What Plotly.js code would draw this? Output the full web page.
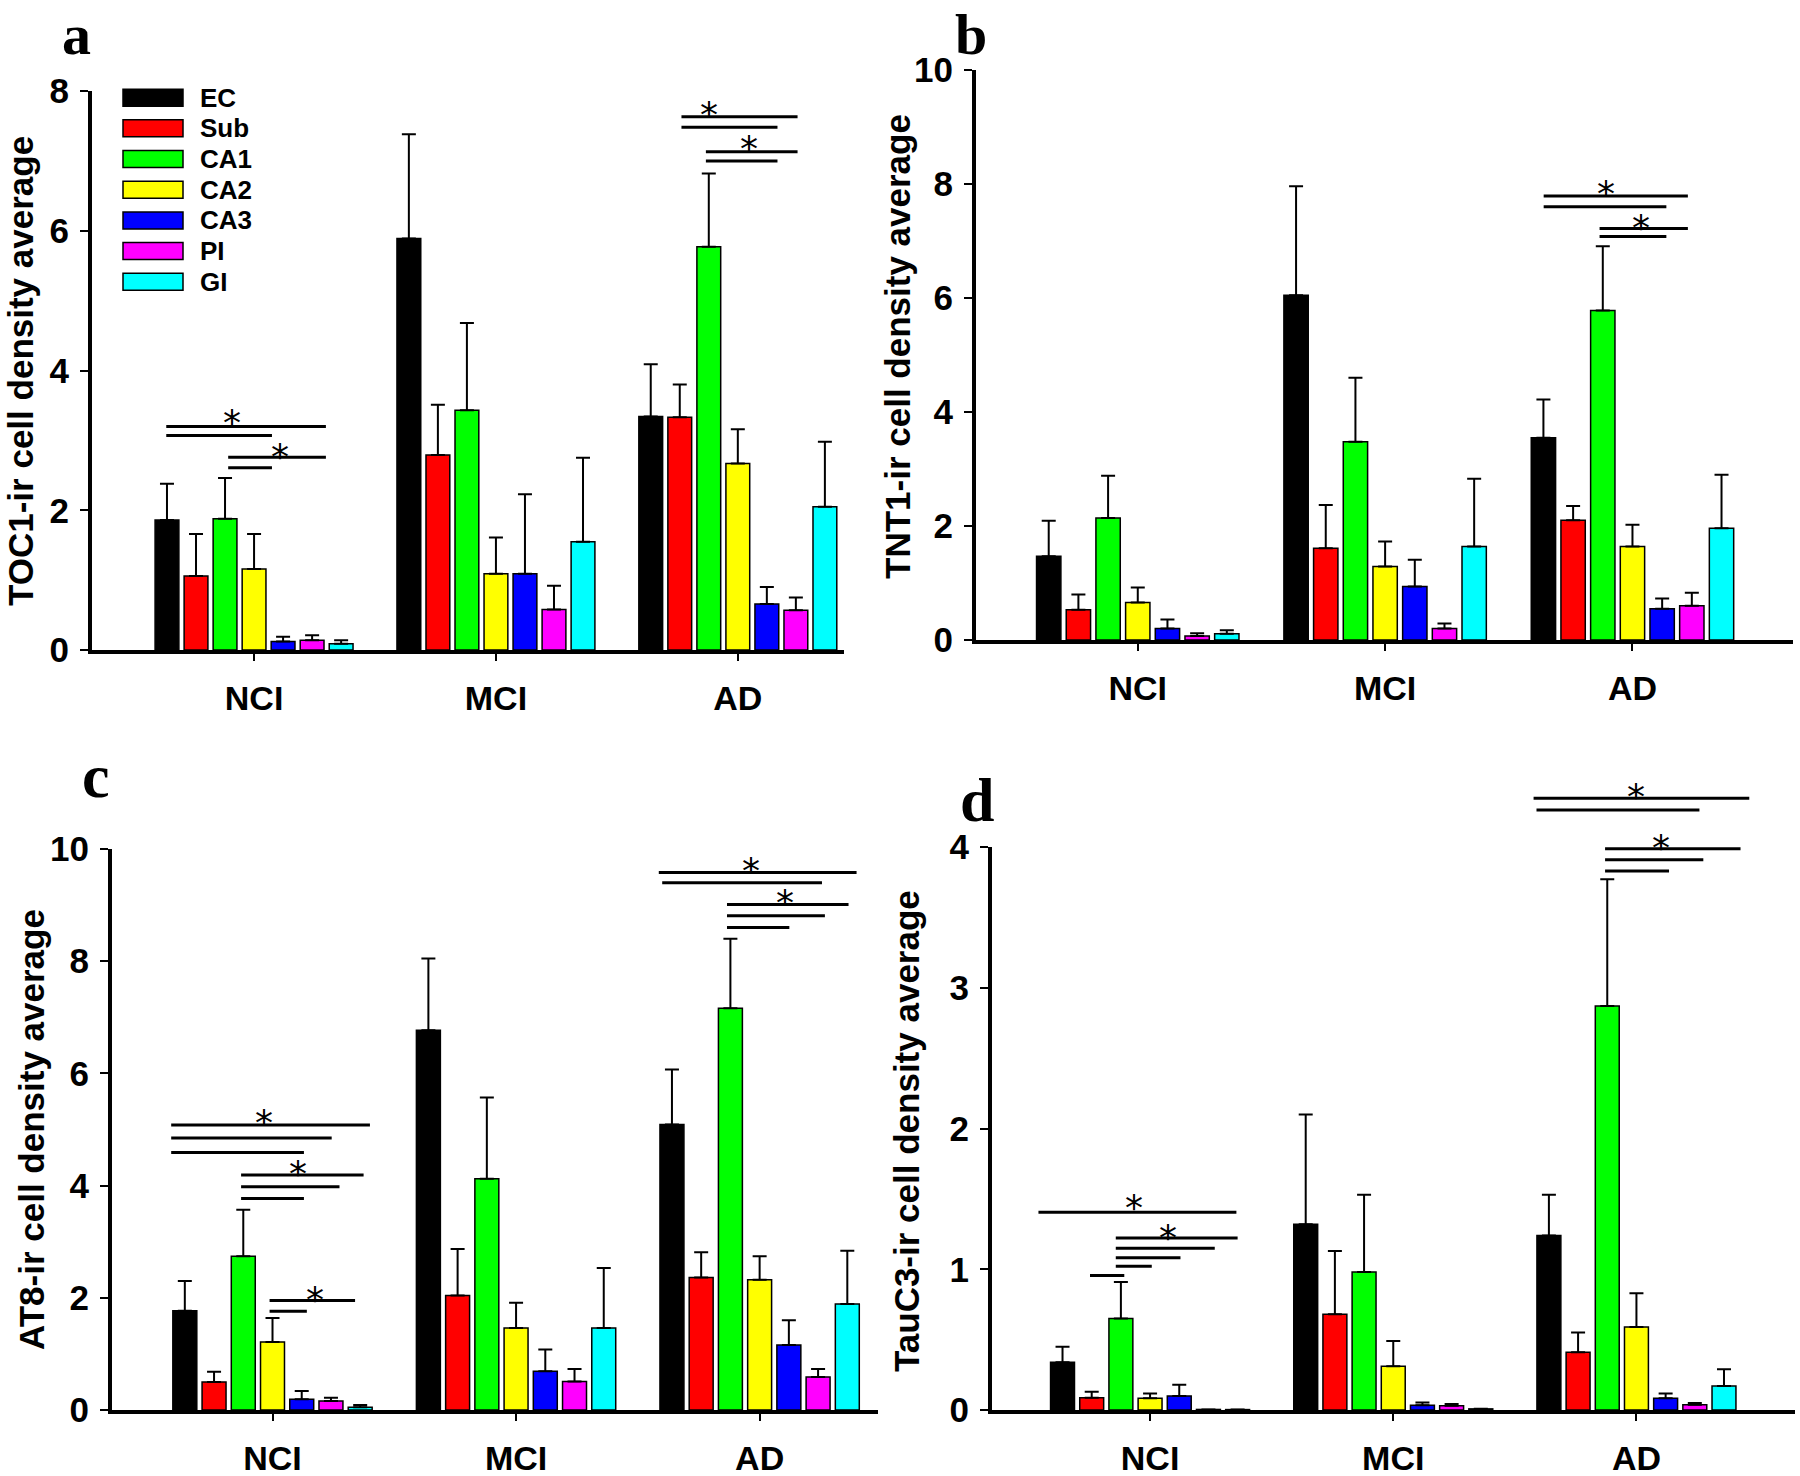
<!DOCTYPE html>
<html><head><meta charset="utf-8">
<script src="https://cdn.plot.ly/plotly-3.0.1.min.js"></script>
<style>html,body{margin:0;padding:0;background:#fff}#chart{width:1800px;height:1476px}</style>
</head><body><div id="chart"></div>
<script>
// ---------- data ----------
const groups = ['NCI', 'MCI', 'AD'];
const regions = ['EC', 'Sub', 'CA1', 'CA2', 'CA3', 'PI', 'GI'];
const regionColors = ['#000000', '#FF0000', '#00FF00', '#FFFF00', '#0000FF', '#FF00FF', '#00FFFF'];

// panel a: TOC1 (rows = regions, cols = NCI, MCI, AD)
const toc1Mean = [[1.86, 5.89, 3.34], [1.06, 2.79, 3.33], [1.88, 3.43, 5.77], [1.16, 1.09, 2.67], [0.12, 1.09, 0.66], [0.14, 0.58, 0.57], [0.09, 1.55, 2.05]];
const toc1Err  = [[0.52, 1.49, 0.75], [0.60, 0.72, 0.47], [0.58, 1.25, 1.05], [0.50, 0.52, 0.49], [0.07, 1.14, 0.24], [0.07, 0.34, 0.18], [0.05, 1.20, 0.93]];
// panel b: TNT1
const tnt1Mean = [[1.47, 6.05, 3.55], [0.53, 1.61, 2.10], [2.14, 3.48, 5.78], [0.66, 1.29, 1.64], [0.20, 0.94, 0.55], [0.07, 0.20, 0.60], [0.11, 1.64, 1.96]];
const tnt1Err  = [[0.62, 1.91, 0.67], [0.27, 0.76, 0.25], [0.74, 1.12, 1.13], [0.26, 0.44, 0.38], [0.16, 0.47, 0.18], [0.05, 0.09, 0.23], [0.06, 1.19, 0.94]];
// panel c: AT8
const at8Mean = [[1.77, 6.77, 5.09], [0.50, 2.04, 2.36], [2.74, 4.12, 7.16], [1.21, 1.46, 2.32], [0.19, 0.69, 1.16], [0.16, 0.51, 0.59], [0.05, 1.46, 1.89]];
const at8Err  = [[0.53, 1.28, 0.98], [0.18, 0.83, 0.45], [0.83, 1.45, 1.24], [0.43, 0.45, 0.42], [0.15, 0.39, 0.44], [0.06, 0.22, 0.14], [0.04, 1.07, 0.95]];
// panel d: TauC3
const tauc3Mean = [[0.34, 1.32, 1.24], [0.087, 0.68, 0.41], [0.65, 0.98, 2.87], [0.083, 0.31, 0.59], [0.10, 0.033, 0.083], [0.004, 0.03, 0.037], [0.003, 0.008, 0.17]];
const tauc3Err  = [[0.11, 0.78, 0.29], [0.043, 0.45, 0.14], [0.26, 0.55, 0.90], [0.034, 0.18, 0.24], [0.08, 0.02, 0.034], [0, 0.013, 0.013], [0, 0, 0.12]];

// significance brackets: [x start, x end, y] in category units / data units
const toc1Sig  = [[-0.363, 0.297, 3.20], [-0.363, 0.074, 3.07], [-0.107, 0.297, 2.76], [-0.107, 0.074, 2.61],
                  [1.767, 2.247, 7.63], [1.767, 2.164, 7.48], [1.868, 2.247, 7.13], [1.868, 2.164, 7.00]];
const toc1Stars = [[-0.093, 3.39], [0.106, 2.90], [1.880, 7.79], [2.045, 7.31]];
const tnt1Sig  = [[1.641, 2.224, 7.79], [1.641, 2.137, 7.60], [1.867, 2.224, 7.22], [1.867, 2.137, 7.08]];
const tnt1Stars = [[1.891, 7.99], [2.034, 7.39]];
const at8Sig   = [[-0.416, 0.400, 5.08], [-0.416, 0.243, 4.85], [-0.416, 0.129, 4.59], [-0.129, 0.374, 4.19], [-0.129, 0.275, 3.98], [-0.129, 0.129, 3.77],
                  [-0.012, 0.339, 1.95], [-0.012, 0.141, 1.76],
                  [1.586, 2.398, 9.58], [1.600, 2.256, 9.40], [1.866, 2.365, 9.01], [1.866, 2.268, 8.81], [1.866, 2.122, 8.60]];
const at8Stars = [[-0.035, 5.29], [0.104, 4.37], [0.174, 2.13], [1.965, 9.78], [2.106, 9.21]];
const tauc3Sig = [[-0.459, 0.355, 1.405], [-0.141, 0.360, 1.222], [-0.141, 0.266, 1.149], [-0.141, 0.125, 1.082], [-0.141, 0.007, 1.022], [-0.247, -0.106, 0.956],
                  [1.577, 2.464, 4.346], [1.589, 2.259, 4.263], [1.871, 2.428, 3.987], [1.871, 2.275, 3.910], [1.871, 2.134, 3.830]];
const tauc3Stars = [[-0.066, 1.50], [0.075, 1.29], [2.000, 4.42], [2.099, 4.06]];

const panelLetters = ['a', 'b', 'c', 'd'];
const yTitles = ['TOC1-ir cell density average', 'TNT1-ir cell density average', 'AT8-ir cell density average', 'TauC3-ir cell density average'];
const yTicks = [[0, 2, 4, 6, 8], [0, 2, 4, 6, 8, 10], [0, 2, 4, 6, 8, 10], [0, 1, 2, 3, 4]];

// ---------- layout helpers ----------
const W = 1800, H = 1476;
const SANS = 'Liberation Sans, Arial, sans-serif';
const SERIF = 'Liberation Serif, Times New Roman, serif';
const px = v => v / W;
const py = v => 1 - v / H;

// page-pixel placement of each panel (layout only)
const panels = [
  {mean: toc1Mean, err: toc1Err, sig: toc1Sig, stars: toc1Stars,
   xdom: [px(92), px(844)], ydom: [py(650), py(91)], xrange: [-0.670, 2.439], yrange: [0, 8],
   titlePos: [21, 371], letter: [60, 0]},
  {mean: tnt1Mean, err: tnt1Err, sig: tnt1Sig, stars: tnt1Stars,
   xdom: [px(976), px(1793)], ydom: [py(640), py(70)], xrange: [-0.654, 2.649], yrange: [0, 10],
   titlePos: [898, 347], letter: [953, 0]},
  {mean: at8Mean, err: at8Err, sig: at8Sig, stars: at8Stars,
   xdom: [px(112), px(878)], ydom: [py(1410), py(849)], xrange: [-0.659, 2.486], yrange: [0, 10],
   titlePos: [31, 1130], letter: [80, 776]},
  {mean: tauc3Mean, err: tauc3Err, sig: tauc3Sig, stars: tauc3Stars,
   xdom: [px(992), px(1795)], ydom: [py(1410), py(847)], xrange: [-0.650, 2.652], yrange: [0, 4],
   titlePos: [906, 1131], letter: [958, 800]}
];

const traces = [];
const layout = {
  width: W, height: H,
  margin: {l: 0, r: 0, t: 0, b: 0},
  paper_bgcolor: '#ffffff', plot_bgcolor: 'rgba(0,0,0,0)',
  showlegend: false,
  barmode: 'group', bargap: 0.16, bargroupgap: 0.18,
  font: {family: SANS, color: '#000'},
  shapes: [], annotations: []
};

panels.forEach((p, k) => {
  const n = k + 1;
  const xid = n === 1 ? 'x' : 'x' + n;
  const yid = n === 1 ? 'y' : 'y' + n;
  const xkey = n === 1 ? 'xaxis' : 'xaxis' + n;
  const ykey = n === 1 ? 'yaxis' : 'yaxis' + n;

  regions.forEach((r, i) => {
    traces.push({
      type: 'bar', x: groups, y: p.mean[i], name: r,
      xaxis: xid, yaxis: yid, showlegend: false,
      marker: {color: regionColors[i], line: {color: '#000', width: 1.5}},
      error_y: {type: 'data', symmetric: false, array: p.err[i], arrayminus: [0, 0, 0],
                color: '#000', thickness: 2, width: 7},
      hoverinfo: 'x+y+name'
    });
  });

  layout[xkey] = {
    domain: p.xdom, anchor: yid, type: 'category', categoryorder: 'array', categoryarray: groups,
    range: p.xrange, showline: true, linewidth: 4, linecolor: '#000',
    ticks: 'outside', ticklen: 7, tickwidth: 2, tickcolor: '#000',
    tickfont: {family: SANS, size: 34, weight: 700, color: '#000'}, ticklabelstandoff: 8,
    showgrid: false, zeroline: false
  };
  layout[ykey] = {
    domain: p.ydom, anchor: xid, range: p.yrange, tickvals: yTicks[k],
    showline: true, linewidth: 4, linecolor: '#000',
    ticks: 'outside', ticklen: 8, tickwidth: 2, tickcolor: '#000',
    tickfont: {family: SANS, size: 35, weight: 700, color: '#000'}, ticklabelstandoff: 4,
    showgrid: false, zeroline: false
  };

  // y-axis title (placed as rotated text to match the reference spacing)
  layout.annotations.push({xref: 'paper', yref: 'paper', x: px(p.titlePos[0]), y: py(p.titlePos[1]),
                           xanchor: 'center', yanchor: 'middle', textangle: -90, showarrow: false,
                           text: yTitles[k], font: {family: SANS, size: 35, weight: 700, color: '#000'}});

  // significance marks: panel d uses an invisible companion axis that reaches above the plot
  let sy = yid;
  if (k === 3) {
    sy = 'y5';
    const unit = (H * (p.ydom[1] - p.ydom[0])) / (p.yrange[1] - p.yrange[0]);
    const extra = 0.6 * unit / H;
    layout.yaxis5 = {domain: [p.ydom[0], p.ydom[1] + extra], range: [0, 4.6], anchor: xid, visible: false,
                     showgrid: false, zeroline: false};
    traces.push({type: 'scatter', x: [], y: [], xaxis: xid, yaxis: 'y5', showlegend: false, hoverinfo: 'skip'});
  }
  p.sig.forEach(s => {
    layout.shapes.push({type: 'line', xref: xid, yref: sy, x0: s[0], x1: s[1], y0: s[2], y1: s[2],
                        line: {color: '#000', width: 3}});
  });
  p.stars.forEach(s => {
    layout.annotations.push({xref: xid, yref: sy, x: s[0], y: s[1], text: '*', showarrow: false,
                             xanchor: 'center', yanchor: 'middle', yshift: -9,
                             font: {family: 'DejaVu Sans, sans-serif', size: 36, color: '#000'}});
  });

  // panel letter
  const top = p.letter[1] === 0;
  layout.annotations.push({xref: 'paper', yref: 'paper', x: px(p.letter[0]), y: top ? 1 : py(p.letter[1]),
                           xanchor: 'left', yanchor: top ? 'top' : 'middle', text: panelLetters[k], showarrow: false,
                           font: {family: SERIF, size: top ? 58 : 62, weight: 700, color: '#000'}});
});

// legend (panel a)
regions.forEach((r, i) => {
  const yc = 97.7 + i * 30.67;
  layout.shapes.push({type: 'rect', xref: 'paper', yref: 'paper', x0: px(123), x1: px(183), y0: py(yc + 8.5), y1: py(yc - 8.5),
                      fillcolor: regionColors[i], line: {color: '#000', width: 1.5}});
  layout.annotations.push({xref: 'paper', yref: 'paper', x: px(198), y: py(yc), xanchor: 'left', yanchor: 'middle',
                           text: r, showarrow: false, font: {family: SANS, size: 26, weight: 700, color: '#000'}});
});

Plotly.newPlot('chart', traces, layout, {displayModeBar: false, staticPlot: true});
</script>
</body></html>
